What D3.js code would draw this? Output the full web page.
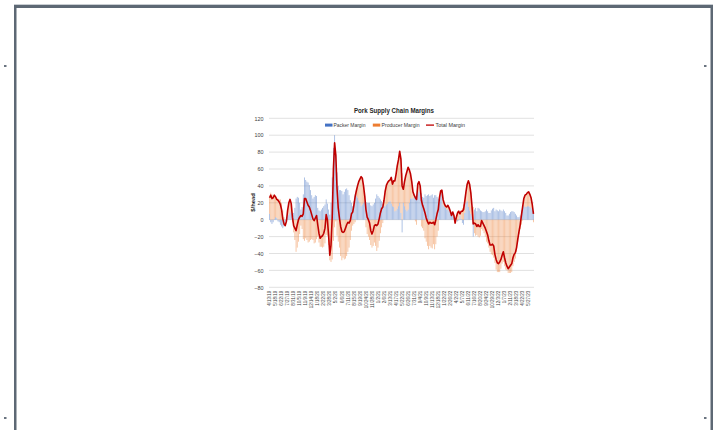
<!DOCTYPE html>
<html><head><meta charset="utf-8">
<script src="https://cdn.jsdelivr.net/npm/d3@7"></script>
<style>
body{margin:0;background:#fff;}
svg{display:block;}
text{font-family:"Liberation Sans",Arial,sans-serif;}
</style>
</head><body>
<svg id="c" width="713" height="430"></svg>
<script>
// ---- data (weekly, first week 4/13/19) ----
const packer = [
 7,-3,-5,-3,1,3,2,-2,-3,-6, -8,-10,-8,-4,0,4,6,8,10,6,
 8,14,25,27,26,20,12,15,30,50, 47,45,44,41,35,29,25,27,29,28,
 14,11,10,12,14,16,18,24,19,12, 6,20,50,85,100,78,56,40,35,35,
 34,30,33,36,37,35,29,23,20,16, 22,30,28,26,23,20,16,18,20,22,
 21,20,20,20,17,16,18,20,25,30, 28,26,24,22,19,16,16,18,19,21,
 22,19,16,15,10,11,13,16,20,8, -15,20,16,12,10,12,20,25,25,25,
 27,28,30,31,33,35,31,27,26,30, 28,29,30,28,29,30,26,29,29,27,
 25,25,30,35,17,15,14,12,12,10, 8,5,5,3,0,0,-2,-1,5,1,
 -4,-6,8,20,22,15,11,7,4,-20, 12,14,10,14,13,11,10,9,9,10,
 12,10,8,8,11,13,14,10,12,11, 10,12,11,10,12,10,8,5,5,7,
 9,10,10,9,7,5,3,3,5,11, 16,17,15,15,16,16,15,14,12,10
];
const producer = [
 19,32,30,29,28,24,22,25,24,24, 20,11,3,-3,-2,7,14,16,9,-3,
 -15,-24,-38,-33,-26,-17,-7,-11,-23,-25, -22,-24,-27,-26,-24,-23,-24,-28,-27,-23,
 -20,-27,-32,-32,-33,-32,-28,-18,-19,-30, -48,-50,-47,-25,-9,-2,-19,-26,-33,-43,
 -48,-45,-47,-46,-43,-38,-33,-24,-13,-7, -5,-3,6,14,22,28,35,31,20,6,
 -9,-17,-20,-24,-30,-33,-31,-27,-31,-37, -33,-25,-16,-9,-4,7,18,23,25,25,
 25,31,26,31,36,43,51,55,61,64, 55,16,29,40,47,50,39,29,20,8,
 2,-2,-6,11,12,5,-8,-10,-13,-22, -26,-31,-35,-31,-33,-34,-29,-35,-29,-20,
 -13,1,4,0,7,4,2,3,5,4, 2,0,4,2,-4,3,10,11,2,9,
 14,18,14,13,20,31,31,25,12,15, -16,-19,-18,-20,-21,-19,-11,-13,-16,-20,
 -26,-28,-33,-38,-41,-42,-45,-51,-59,-62, -62,-62,-58,-52,-50,-55,-59,-60,-63,-63,
 -63,-62,-55,-50,-46,-38,-26,-17,-11,-6, -1,8,14,15,16,17,15,12,6,-3
];
const total = [
 26,29,25,26,29,27,24,23,21,18, 12,1,-5,-7,-2,11,20,24,19,3,
 -7,-10,-13,-6,0,3,5,4,7,25, 25,21,17,15,11,6,1,-1,2,5,
 -6,-16,-22,-20,-19,-16,-10,6,0,-18, -42,-30,3,60,91,76,37,14,2,-8,
 -14,-15,-14,-10,-6,-3,-4,-1,7,9, 17,27,34,40,45,48,51,49,40,28,
 12,3,0,-4,-13,-17,-13,-7,-6,-7, -5,1,8,13,15,23,34,41,44,46,
 47,50,42,46,46,54,64,71,81,72, 40,36,45,52,57,62,59,54,45,33,
 29,26,24,42,45,40,23,17,13,8, 2,-2,-5,-3,-4,-4,-3,-6,0,7,
 12,26,34,35,24,19,16,15,17,14, 10,5,9,5,-4,3,8,10,7,10,
 10,12,22,33,42,46,42,32,16,-5, -4,-5,-8,-6,-8,-8,-1,-4,-7,-10,
 -14,-18,-25,-30,-30,-29,-31,-41,-47,-51, -52,-50,-47,-42,-38,-45,-51,-55,-58,-56,
 -54,-52,-45,-41,-39,-33,-23,-14,-6,5, 15,25,29,30,32,33,30,26,18,7
];
// x tick labels (every 5th week)
const tickLabels = [
 "4/13/19","5/18/19","6/22/19","7/27/19","8/31/19","10/5/19","11/9/19","12/14/19",
 "1/18/20","2/22/20","3/28/20","5/2/20","6/6/20","7/11/20","8/15/20","9/19/20","10/24/20","11/28/20",
 "1/2/21","2/6/21","3/13/21","4/17/21","5/22/21","6/26/21","7/31/21","9/4/21","10/9/21","11/13/21","12/18/21",
 "1/22/22","2/26/22","4/2/22","5/7/22","6/11/22","7/16/22","8/20/22","9/24/22","10/29/22","12/3/22",
 "1/7/23","2/11/23","3/18/23","4/22/23","5/27/23"
];
const tickStep = 5;
const yTicks = [-80,-60,-40,-20,0,20,40,60,80,100,120];
const seriesNames = ["Packer Margin","Producer Margin","Total Margin"];
const colors = {packer:"#4472C4", producer:"#ED7D31", total:"#C00000"};

const N = total.length;
const svg = d3.select("#c");

// ---- page frame ----
svg.append("rect").attr("x",14).attr("y",5).attr("width",713-14).attr("height",3).attr("fill","#5d6874");
svg.append("rect").attr("x",14).attr("y",5).attr("width",2.5).attr("height",425).attr("fill","#5d6874");
svg.append("rect").attr("x",710.5).attr("y",5).attr("width",2.5).attr("height",425).attr("fill","#5d6874");
svg.append("line").attr("x1",14).attr("x2",713).attr("y1",4.5).attr("y2",4.5).attr("stroke","#c9ced3").attr("stroke-width",1);
[[5,66],[705,66],[5,418],[705,418]].forEach(p=>{
  svg.append("rect").attr("x",p[0]-1).attr("y",p[1]-1).attr("width",2.5).attr("height",2).attr("fill","#6a7480");
});

// ---- scales ----
const x = d3.scaleBand().domain(d3.range(N)).range([269,534]).paddingInner(0.3).paddingOuter(0.1);
const y = d3.scaleLinear().domain([-80,120]).range([287.3,118.3]);
const cx = i => x(i) + x.bandwidth()/2;

// gridlines
const g = svg.append("g");
g.selectAll("line.grid").data(yTicks).join("line")
  .attr("x1",269).attr("x2",534)
  .attr("y1",d=>y(d)).attr("y2",d=>y(d))
  .attr("stroke","#d9d9d9").attr("stroke-width",0.8);

// y axis labels
const yAxis = d3.axisLeft(y).tickValues(yTicks).tickSize(0).tickPadding(5.5);
const ya = svg.append("g").attr("transform","translate(269,0)").call(yAxis);
ya.select(".domain").remove();
ya.selectAll("text").attr("font-size",5.4).attr("fill","#404040").attr("font-family","Liberation Sans, Arial, sans-serif");

// stacked bars
const rows = d3.range(N).map(i=>({i, packer:packer[i], producer:producer[i]}));
const stack = d3.stack().keys(["packer","producer"]).offset(d3.stackOffsetDiverging);
const layers = stack(rows);
svg.append("g").selectAll("g").data(layers).join("g")
  .attr("fill", d=>colors[d.key]).attr("fill-opacity",0.5)
  .selectAll("rect").data(d=>d).join("rect")
  .attr("x",d=>x(d.data.i))
  .attr("width",x.bandwidth())
  .attr("y",d=>y(Math.max(d[0],d[1])))
  .attr("height",d=>Math.abs(y(d[0])-y(d[1])));

// total line
const line = d3.line().x((d,i)=>cx(i)).y(d=>y(d));
svg.append("path").datum(total).attr("d",line)
  .attr("fill","none").attr("stroke",colors.total).attr("stroke-width",1.6).attr("stroke-linejoin","round");

// x axis labels
const xAxis = d3.axisBottom(x).tickValues(d3.range(0,N,tickStep)).tickSize(0).tickPadding(0)
  .tickFormat(i=>tickLabels[i/tickStep]);
const xa = svg.append("g").attr("transform","translate(0,287.3)").call(xAxis);
xa.select(".domain").remove();
xa.selectAll("text").attr("font-size",4.5).attr("fill","#404040")
  .attr("font-family","Liberation Sans, Arial, sans-serif")
  .attr("transform","rotate(-90)").attr("text-anchor","end")
  .attr("x",-3.5).attr("y",0).attr("dy","0.35em");

// title
svg.append("text").attr("x",394).attr("y",112.5).attr("text-anchor","middle")
  .attr("font-size",7).attr("font-weight","bold").attr("fill","#262626")
  .attr("textLength",80).attr("lengthAdjust","spacingAndGlyphs")
  .text("Pork Supply Chain Margins");

// y title
svg.append("text").attr("transform","translate(254.5,202.5) rotate(-90)")
  .attr("text-anchor","middle").attr("font-size",5.8).attr("font-weight","bold").attr("fill","#262626")
  .text("$/head");

// legend
const lg = svg.append("g").attr("font-size",4.8).attr("fill","#404040");
lg.append("rect").attr("x",325).attr("y",123.6).attr("width",7.5).attr("height",3).attr("fill",colors.packer);
lg.append("text").attr("x",333.5).attr("y",126.8).attr("textLength",32).attr("lengthAdjust","spacingAndGlyphs").text(seriesNames[0]);
lg.append("rect").attr("x",372.8).attr("y",123.6).attr("width",7.5).attr("height",3).attr("fill",colors.producer);
lg.append("text").attr("x",381.5).attr("y",126.8).attr("textLength",38).attr("lengthAdjust","spacingAndGlyphs").text(seriesNames[1]);
lg.append("line").attr("x1",426).attr("x2",434).attr("y1",125.1).attr("y2",125.1).attr("stroke",colors.total).attr("stroke-width",1.3);
lg.append("text").attr("x",435.5).attr("y",126.8).attr("textLength",29.5).attr("lengthAdjust","spacingAndGlyphs").text(seriesNames[2]);
</script>
</body></html>
